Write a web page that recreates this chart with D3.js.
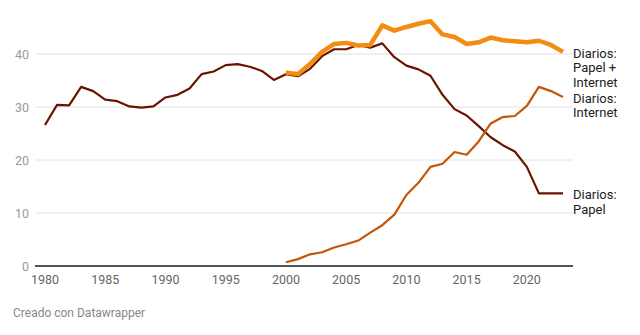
<!DOCTYPE html>
<html>
<head>
<meta charset="utf-8">
<script src="https://cdn.jsdelivr.net/npm/d3@7"></script>
<style>
  html, body { margin: 0; padding: 0; background: #fff; }
  svg { display: block; font-family: Roboto, "Noto Sans", sans-serif; }
</style>
</head>
<body>
<svg id="chart" width="640" height="335"></svg>
<script>
// yearly values, % of population
const yearsPapel = d3.range(1980, 2024);
const papel = [26.6, 30.4, 30.3, 33.8, 33.0, 31.4, 31.1, 30.1, 29.9, 30.1,
               31.8, 32.3, 33.5, 36.2, 36.7, 37.9, 38.1, 37.6, 36.8, 35.1,
               36.2, 35.8, 37.2, 39.6, 40.9, 40.9, 41.7, 41.2, 42.0, 39.4,
               37.8, 37.1, 35.9, 32.3, 29.6, 28.4, 26.4, 24.3, 22.8, 21.6,
               18.7, 13.7, 13.7, 13.7];

const yearsOnline = d3.range(2000, 2024);
const internet = [0.7, 1.3, 2.2, 2.6, 3.5, 4.1, 4.8, 6.3, 7.7, 9.7,
                  13.4, 15.7, 18.7, 19.3, 21.5, 21.0, 23.5, 26.9, 28.1, 28.3,
                  30.2, 33.8, 33.0, 31.9];
const papelInternet = [36.5, 36.2, 38.1, 40.4, 41.9, 42.1, 41.6, 41.7, 45.4, 44.4,
                       45.1, 45.7, 46.2, 43.7, 43.2, 41.9, 42.2, 43.1, 42.6, 42.4,
                       42.2, 42.5, 41.7, 40.4];

const yTicks = [0, 10, 20, 30, 40];
const xTicks = [1980, 1985, 1990, 1995, 2000, 2005, 2010, 2015, 2020];

const series = [
  { name: ["Diarios:", "Papel"], years: yearsPapel, values: papel, color: "#6a1300", width: 2.2 },
  { name: ["Diarios:", "Internet"], years: yearsOnline, values: internet, color: "#c55509", width: 2.2 },
  { name: ["Diarios:", "Papel +", "Internet"], years: yearsOnline, values: papelInternet, color: "#f28d12", width: 4.5 }
];

const svg = d3.select("#chart");

const x = d3.scaleLinear().domain([1980, 2023]).range([45, 563]);
const y = d3.scaleLinear().domain([0, 40]).range([266, 54]);

const gridLeft = 35, gridRight = 573;

// grid
svg.append("g")
  .selectAll("line")
  .data(yTicks.filter(d => d > 0))
  .join("line")
  .attr("x1", gridLeft)
  .attr("x2", gridRight)
  .attr("y1", d => y(d))
  .attr("y2", d => y(d))
  .attr("stroke", "#e2e2e2")
  .attr("stroke-width", 1);

// y labels
svg.append("g")
  .attr("font-size", 12.5)
  .attr("fill", "#9a9a9a")
  .attr("text-anchor", "end")
  .selectAll("text")
  .data(yTicks)
  .join("text")
  .attr("x", 29)
  .attr("y", d => y(d))
  .attr("dy", "0.36em")
  .text(d => d);

// x labels
svg.append("g")
  .attr("font-size", 12.5)
  .attr("fill", "#666")
  .attr("text-anchor", "middle")
  .selectAll("text")
  .data(xTicks)
  .join("text")
  .attr("x", d => x(d))
  .attr("y", 284)
  .text(d => d);

const line = d3.line()
  .x(d => x(d[0]))
  .y(d => y(d[1]));

svg.append("g")
  .selectAll("path")
  .data(series)
  .join("path")
  .attr("fill", "none")
  .attr("stroke", d => d.color)
  .attr("stroke-width", d => d.width)
  .attr("stroke-linejoin", "round")
  .attr("d", d => line(d.years.map((yr, i) => [yr, d.values[i]])));

// baseline
svg.append("line")
  .attr("x1", gridLeft)
  .attr("x2", gridRight)
  .attr("y1", y(0))
  .attr("y2", y(0))
  .attr("stroke", "#555")
  .attr("stroke-width", 2);

// direct labels at line ends
const labels = svg.append("g")
  .attr("font-size", 13)
  .attr("fill", "#222")
  .selectAll("text")
  .data(series)
  .join("text")
  .attr("x", 573)
  .attr("y", d => y(d.values[d.values.length - 1]) + 1)
  .attr("dy", "0.36em");

labels.selectAll("tspan")
  .data(d => d.name)
  .join("tspan")
  .attr("x", 573)
  .attr("dy", (d, i) => i === 0 ? "0.36em" : "14.5")
  .text(d => d);

// footer
svg.append("text")
  .attr("x", 13)
  .attr("y", 317)
  .attr("font-size", 12)
  .attr("fill", "#888")
  .text("Creado con Datawrapper");
</script>
</body>
</html>
